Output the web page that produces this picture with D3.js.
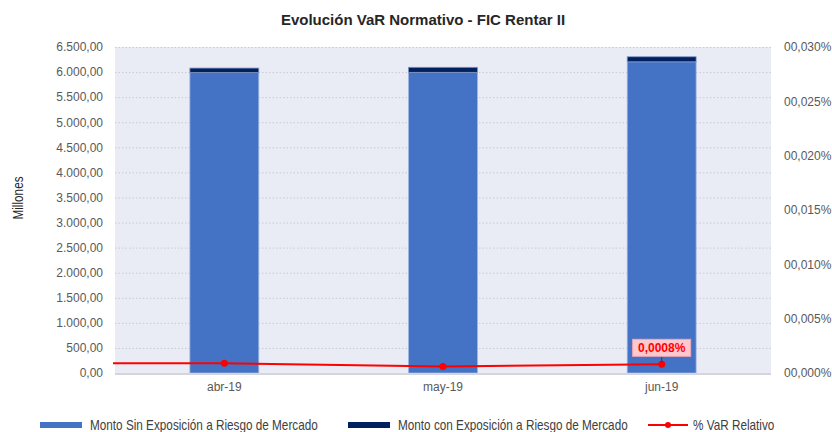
<!DOCTYPE html>
<html>
<head>
<meta charset="utf-8">
<script src="https://cdn.jsdelivr.net/npm/d3@7"></script>
<style>
  body { margin: 0; background: #fff; }
  svg { font-family: "Liberation Sans", Arial, sans-serif; }
</style>
</head>
<body>
<div id="chart"></div>
<script>
// chart data
var months = ["abr-19", "may-19", "jun-19"];
var sinExposicion = [5990, 5995, 6205];   // millones
var conExposicion = [90, 100, 100];       // millones
var varRelativo = [0.0009, 0.0006, 0.0008]; // percent
var leftTicks = [0, 500, 1000, 1500, 2000, 2500, 3000, 3500, 4000, 4500, 5000, 5500, 6000, 6500];
var rightTicks = [0, 0.005, 0.010, 0.015, 0.020, 0.025, 0.030];
var legendNames = ["Monto Sin Exposición a Riesgo de Mercado", "Monto con Exposición a Riesgo de Mercado", "% VaR Relativo"];

var W = 832, H = 432;
var plot = {left: 115, right: 771, top: 47, bottom: 373};

var es = d3.formatLocale({decimal: ",", thousands: ".", grouping: [3], currency: ["$", ""]});
var fmtLeft = es.format(",.2f");
var fmtRight = function (v) { return es.format("06.3f")(v) + "%"; };

var svg = d3.select("#chart").append("svg")
	.attr("width", W)
	.attr("height", H);

var x = d3.scaleBand().domain(months).range([plot.left, plot.right]).paddingInner(0.685).paddingOuter(0.3425);
var y = d3.scaleLinear().domain([0, 6500]).range([plot.bottom, plot.top]);
var y2 = d3.scaleLinear().domain([0, 0.030]).range([plot.bottom, plot.top]);

// plot background
svg.append("rect")
	.attr("x", plot.left).attr("y", plot.top)
	.attr("width", plot.right - plot.left).attr("height", plot.bottom - plot.top)
	.attr("fill", "#e9ecf5");

// dotted gridlines
svg.append("g").selectAll("line")
	.data(leftTicks.filter(function (d) { return d > 0; }))
	.enter().append("line")
	.attr("x1", plot.left).attr("x2", plot.right)
	.attr("y1", function (d) { return y(d) + 0.5; })
	.attr("y2", function (d) { return y(d) + 0.5; })
	.attr("stroke", "#c9cbd1")
	.attr("stroke-dasharray", "1.5,2");

// stacked bars
var bars = svg.append("g");
bars.selectAll(".sin")
	.data(months)
	.enter().append("rect")
	.attr("class", "sin")
	.attr("x", function (d) { return x(d); })
	.attr("width", x.bandwidth())
	.attr("y", function (d, i) { return y(sinExposicion[i]); })
	.attr("height", function (d, i) { return y(0) - y(sinExposicion[i]); })
	.attr("fill", "#4472c4")
	.attr("stroke", "#9fb4e0")
	.attr("stroke-width", 0.8);
bars.selectAll(".con")
	.data(months)
	.enter().append("rect")
	.attr("class", "con")
	.attr("x", function (d) { return x(d); })
	.attr("width", x.bandwidth())
	.attr("y", function (d, i) { return y(sinExposicion[i] + conExposicion[i]); })
	.attr("height", function (d, i) { return y(sinExposicion[i]) - y(sinExposicion[i] + conExposicion[i]); })
	.attr("fill", "#002060")
	.attr("stroke", "#7f93c0")
	.attr("stroke-width", 0.8);

// x axis base line
svg.append("line")
	.attr("x1", plot.left).attr("x2", plot.right)
	.attr("y1", plot.bottom + 1).attr("y2", plot.bottom + 1)
	.attr("stroke", "#d4d6db").attr("stroke-width", 2);

// axes
var leftAxis = svg.append("g")
	.attr("transform", "translate(" + (plot.left - 12) + ",0)")
	.call(d3.axisLeft(y).tickValues(leftTicks).tickFormat(fmtLeft).tickSize(0).tickPadding(0));
var rightAxis = svg.append("g")
	.attr("transform", "translate(" + (plot.right + 13) + ",0)")
	.call(d3.axisRight(y2).tickValues(rightTicks).tickFormat(fmtRight).tickSize(0).tickPadding(0));
var bottomAxis = svg.append("g")
	.attr("transform", "translate(0," + (plot.bottom + 9) + ")")
	.call(d3.axisBottom(x).tickSize(0).tickPadding(0));
[leftAxis, rightAxis, bottomAxis].forEach(function (a) {
	a.select(".domain").remove();
	a.selectAll("text").attr("fill", "#595959").style("font-size", "12px").style("font-family", "Liberation Sans, Arial, sans-serif");
});
bottomAxis.selectAll("text").attr("dy", "0.71em");

// VaR line (Excel draws it from the left edge)
var cx = function (d) { return x(d) + x.bandwidth() / 2; };
var linePts = [[plot.left - 2, y2(varRelativo[0])]].concat(months.map(function (d, i) { return [cx(d), y2(varRelativo[i])]; }));
svg.append("path")
	.attr("d", d3.line()(linePts))
	.attr("fill", "none")
	.attr("stroke", "#ff0000")
	.attr("stroke-width", 2);
svg.append("g").selectAll("circle")
	.data(months)
	.enter().append("circle")
	.attr("cx", cx)
	.attr("cy", function (d, i) { return y2(varRelativo[i]); })
	.attr("r", 3.5)
	.attr("fill", "#ff0000");

// data label on last point
var lastI = months.length - 1;
var lx = cx(months[lastI]), ly = y2(varRelativo[lastI]);
svg.append("line")
	.attr("x1", lx).attr("x2", lx)
	.attr("y1", ly - 8).attr("y2", ly - 2)
	.attr("stroke", "#333").attr("stroke-width", 0.8);
svg.append("rect")
	.attr("x", lx - 29).attr("y", ly - 25)
	.attr("width", 58).attr("height", 17)
	.attr("fill", "#ffc7ce").attr("stroke", "#f2a7b5").attr("stroke-width", 1);
svg.append("text")
	.attr("x", lx).attr("y", ly - 12.5)
	.attr("text-anchor", "middle")
	.attr("fill", "#ff0000")
	.style("font-size", "12px").style("font-weight", "bold")
	.text(es.format(".4f")(varRelativo[lastI]) + "%");

// title
svg.append("text")
	.attr("x", 423).attr("y", 25)
	.attr("text-anchor", "middle")
	.attr("fill", "#262626")
	.style("font-size", "15px").style("font-weight", "bold")
	.text("Evolución VaR Normativo - FIC Rentar II");

// y axis title (narrow look)
svg.append("text")
	.attr("transform", "translate(23,198) rotate(-90) scale(0.84,1)")
	.attr("text-anchor", "middle")
	.attr("fill", "#262626")
	.style("font-size", "14px")
	.text("Millones");

// legend
var legendX = [40, 348, 648];
var legend = svg.append("g");
legendNames.forEach(function (name, i) {
	var g = legend.append("g").attr("transform", "translate(" + legendX[i] + ",425)");
	if (i < 2) {
		g.append("rect").attr("x", 0).attr("y", -3).attr("width", 42).attr("height", 6)
			.attr("fill", i == 0 ? "#4472c4" : "#002060");
	} else {
		g.append("line").attr("x1", 0).attr("x2", 40).attr("y1", 0).attr("y2", 0)
			.attr("stroke", "#ff0000").attr("stroke-width", 2);
		g.append("circle").attr("cx", 20).attr("cy", 0).attr("r", 3).attr("fill", "#ff0000");
	}
	g.append("text")
		.attr("transform", "translate(" + (i < 2 ? 50 : 45) + ",0) scale(0.84,1)")
		.attr("dy", "0.35em")
		.attr("fill", "#404040")
		.style("font-size", "14px")
		.text(name);
});
</script>
</body>
</html>
